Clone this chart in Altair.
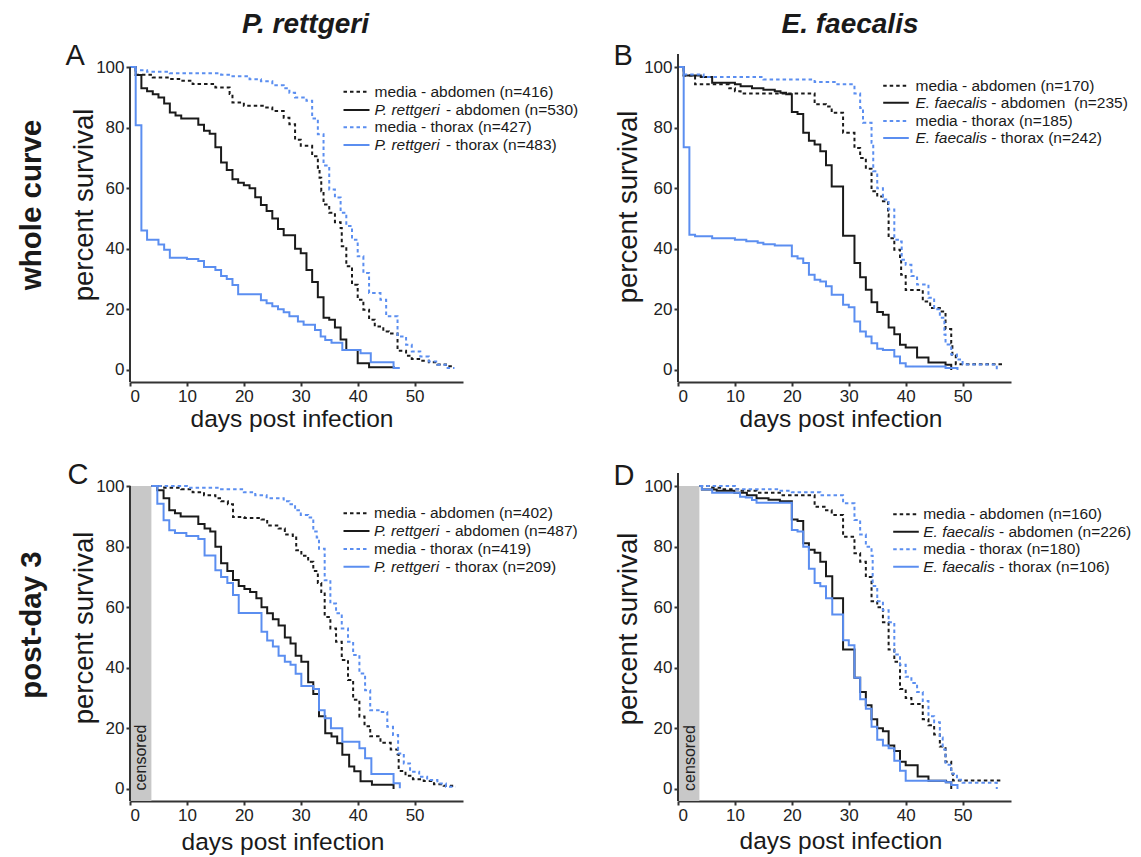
import altair as alt
import pandas as pd

FONT = "Liberation Sans"
INK = "#1a1a1a"
BLUE = "#5b8ef0"
BAND = "#c8c8c8"
AXIS = "#333333"

KEYS = ["media_abd", "bact_abd", "media_thx", "bact_thx"]
COLORS = [INK, INK, BLUE, BLUE]
DASHES = [[3.5, 3], [1, 0], [3.5, 3], [1, 0]]

X_TICKS = [0, 10, 20, 30, 40, 50]
Y_TICKS = [0, 20, 40, 60, 80, 100]
CENSOR_END = 3.76

COL_TITLES = ["P. rettgeri", "E. faecalis"]
ROW_TITLES = ["whole curve", "post-day 3"]
PANEL_LETTERS = ["A", "B", "C", "D"]
X_TITLE = "days post infection"
Y_TITLE = "percent survival"
CENSOR_LABEL = "censored"

# ---------------- legends ----------------
A_leg_italic = ["", "P. rettgeri", "", "P. rettgeri"]
A_leg_text = ["media - abdomen (n=416)", "- abdomen (n=530)", "media - thorax (n=427)", "- thorax (n=483)"]
B_leg_italic = ["", "E. faecalis", "", "E. faecalis"]
B_leg_text = ["media - abdomen (n=170)", "- abdomen\u00a0 (n=235)", "media - thorax (n=185)", "- thorax (n=242)"]
C_leg_italic = ["", "P. rettgeri", "", "P. rettgeri"]
C_leg_text = ["media - abdomen (n=402)", "- abdomen (n=487)", "media - thorax (n=419)", "- thorax (n=209)"]
D_leg_italic = ["", "E. faecalis", "", "E. faecalis"]
D_leg_text = ["media - abdomen (n=160)", "- abdomen (n=226)", "media - thorax (n=180)", "- thorax (n=106)"]

# ---------------- panel A: P. rettgeri, whole curve ----------------
A_ma_day = [0, 1, 4, 7, 9, 11, 15, 17.5, 18, 20, 23.5, 25, 27, 28, 29, 30, 32, 33, 33.3, 33.6, 34, 35, 36, 37, 37.2, 38, 39, 40, 41, 42, 43, 44.5, 45.5, 47, 48.5, 49.5, 51, 52.5, 54, 55.5, 56.6]
A_ma_srv = [100, 97.5, 96.6, 96.1, 95.5, 94.4, 93.3, 91.1, 88.3, 87.2, 86.7, 85.5, 83.3, 81.1, 76, 74, 70.6, 66.8, 63.5, 59, 54.6, 51.9, 48.8, 46.9, 40.8, 34.2, 28.1, 23.2, 19.9, 16.6, 14.3, 12.7, 12, 6.3, 4.7, 3.6, 3, 2.5, 1.8, 1.2, 0.9]
A_ba_day = [0, 1, 2, 3, 4, 5, 6, 7, 8, 9, 12, 13, 14, 15, 16, 17, 18, 19, 20, 21, 22, 23, 24, 25, 26, 27, 29, 30, 31, 32, 33, 34, 35, 36, 37, 38, 40, 42, 46.5]
A_ba_srv = [100, 97.4, 93, 92, 91, 90, 88, 85, 84, 83, 81, 79, 78, 73.5, 68.5, 66, 63, 61.8, 61, 60, 57, 54.5, 52.5, 50, 46.5, 44.5, 40, 38.5, 33, 29, 24, 17.2, 16.6, 14, 10, 6.6, 2.2, 0.9, 0.9]
A_mt_day = [0, 1, 3, 7, 16, 18, 21, 23, 25, 27, 28, 29, 31, 32, 33, 34, 35, 36, 37, 38, 39, 40, 41, 42, 44, 45, 47, 48.5, 49.5, 51, 52.5, 54, 55.8, 57]
A_mt_srv = [100, 99, 98.5, 98, 97.5, 97, 96, 95.3, 94, 93, 91.5, 90, 88.9, 83, 77.8, 67.5, 59.6, 56.9, 51.9, 47.5, 43, 37.5, 32, 25.4, 23.2, 17.7, 11, 8.3, 6.1, 4.4, 2.8, 1.7, 0.6, 0.6]
A_bt_day = [0, 1, 2, 3, 5, 6, 7, 10, 12, 13, 15, 16, 17, 18, 19, 23, 24, 25, 26, 27, 28, 29.5, 30.5, 32.5, 33.5, 34.3, 35.4, 37.3, 40.5, 42.3, 46.3, 47.4]
A_bt_srv = [100, 80.8, 46, 43, 41.4, 39.7, 37, 36.6, 36, 34, 33, 31, 30, 28, 25, 23, 22, 21, 20, 19, 17.7, 16, 14.9, 13.2, 11, 9.9, 9, 6.6, 5.5, 2.5, 0.6, 0.6]

# ---------------- panel B: E. faecalis, whole curve ----------------
B_ma_day = [0, 1, 3, 9, 10, 11, 24, 26, 27, 29, 31, 32, 33, 34, 35, 36, 36.9, 37, 38, 39, 39.2, 40, 43, 44.3, 46, 47, 48, 48.2, 48.8, 57]
B_ma_srv = [100, 97.2, 94.3, 93, 92, 91.3, 87.7, 87, 84.9, 78.3, 73.3, 70, 66.4, 59, 57.3, 55.7, 51.3, 43.5, 39.7, 36.4, 31.4, 26.4, 22.6, 20.4, 19.3, 13.5, 8.8, 4.9, 1.9, 1.9]
B_ba_day = [0, 1, 4, 6, 10, 11, 13, 15, 17, 18, 19, 20, 21, 22, 23, 24, 25, 26, 27, 29, 31, 32, 33, 34, 35, 36, 37, 38, 39, 40, 42, 44, 47, 48]
B_ba_srv = [100, 97.2, 96.7, 94.8, 94.3, 93.7, 93, 92.5, 92, 91.5, 91, 85.2, 84.5, 78.3, 75.7, 74.4, 72.2, 67.6, 60.6, 44.3, 35.3, 30.6, 26.5, 22.3, 19.1, 18.2, 14, 11.8, 8.3, 7.4, 4.1, 2.4, 1.7, 0]
B_mt_day = [0, 1, 4.5, 15, 24, 28, 31, 32, 32.5, 34, 34.3, 35, 36, 37, 38, 39, 39.3, 40, 41, 42, 44, 45, 46, 46.8, 47, 48, 49, 50, 56]
B_mt_srv = [100, 97.6, 96.7, 95.9, 95.1, 94.3, 91.3, 86.5, 81.6, 75, 65.6, 60, 56.3, 53, 43, 42.4, 36.4, 34.7, 31, 28.2, 23.8, 20, 17.2, 11.7, 8.4, 5.1, 3.4, 1.8, 0]
B_bt_day = [0, 1, 2, 3, 6, 10, 12, 14, 15, 17, 20, 21, 22, 23, 24, 25, 26, 27, 29, 30, 31, 32, 33, 34, 35, 36, 38, 39, 40, 47, 49.1]
B_bt_srv = [100, 73.5, 44.6, 44.1, 43.5, 43, 42.5, 42, 41.5, 41.1, 37.5, 36.8, 35.3, 31.4, 29.8, 29.2, 27.6, 24.8, 21.5, 20.7, 16, 12.7, 11, 8.8, 7, 6.6, 4.4, 2.2, 1.1, 0.6, 0]

# ---------------- panel C: P. rettgeri, post-day 3 ----------------
C_ma_day = [3.8, 6, 9, 11, 13, 15, 16, 17.2, 18.1, 20.1, 23.1, 24.1, 26.1, 27.2, 28.6, 29.2, 30.1, 31.3, 32.2, 33, 33.6, 34.2, 35.2, 36.2, 37.2, 38.3, 39.2, 40.3, 41.2, 42.2, 44, 45.8, 47, 47.2, 48.4, 49.7, 51.6, 53.4, 55.1, 56.6, 57]
C_ma_srv = [100, 99.5, 99, 98, 97, 96, 95, 94, 89.8, 89.5, 89, 87, 86, 84, 83, 78.8, 77, 75, 72, 68, 65, 56.8, 53, 48.6, 42.6, 36, 29.4, 23.9, 20.7, 17.4, 15.2, 13, 11.4, 5.9, 4.3, 3.2, 2.6, 1.5, 1, 0.4, 0.4]
C_ba_day = [3.8, 4.8, 5.9, 6.9, 7.9, 8.9, 12, 13.1, 14.1, 15, 16, 17.1, 18.1, 19.1, 20.1, 21.1, 22.2, 23.1, 24.1, 25.1, 26.1, 27.2, 28.2, 29.1, 30.1, 31.3, 32.2, 33.2, 34.3, 35.4, 36.4, 37.3, 38.5, 39.4, 40.5, 42.5, 46.3]
C_ba_srv = [100, 98.6, 96, 92, 91, 90, 87.5, 86, 85, 80, 74.5, 72, 69, 67, 66, 65, 63, 60, 58, 56, 54, 50, 48, 44, 42, 35.2, 31.3, 24, 18.4, 17.3, 15.1, 11.3, 7.4, 5.8, 2.5, 1.4, 0]
C_mt_day = [3.8, 10, 16, 20, 22, 24, 27, 28, 29, 30, 31.3, 32.2, 32.8, 33.2, 34.2, 35.2, 36.2, 37.2, 38.3, 39.2, 40.3, 41.3, 42.2, 44, 45.2, 46.2, 47.1, 48.1, 49.2, 50.8, 52.2, 54, 55.5, 57.2]
C_mt_srv = [100, 99.5, 99, 98, 97, 96, 95, 94, 92, 90.5, 89.6, 85, 83, 79.3, 68.9, 61.2, 58, 53, 48.6, 44.2, 38.1, 32.6, 26, 25.4, 20.5, 17.8, 11.7, 8.4, 5.7, 4, 2.9, 1.8, 0.7, 0.7]
C_bt_day = [3.8, 4.8, 5.9, 6.9, 7.9, 9.9, 12, 13.1, 15, 16, 17.1, 18.1, 19.1, 23.1, 24.1, 25.1, 26.1, 27.2, 28.2, 29.1, 30.1, 32.2, 33.2, 34.2, 35.3, 37.3, 40.3, 41.3, 42.4, 46.3, 47.4]
C_bt_srv = [100, 94.2, 88.7, 85.4, 84.5, 83.5, 82.5, 77.1, 72.2, 70, 68, 64, 58.1, 51.9, 49, 47, 44, 42, 41, 38, 34, 33, 26, 23.3, 20, 15.6, 13.4, 10.1, 4.9, 1.9, 0.2]

# ---------------- panel D: E. faecalis, post-day 3 ----------------
D_ma_day = [3.8, 6, 8, 10.9, 13.8, 17.9, 24, 26, 27, 29, 31, 32, 33, 34, 35, 36, 37, 38, 39, 40, 41, 43, 44, 45, 46, 47, 48, 48.3, 57]
D_ma_srv = [100, 99.5, 99, 98.5, 97.8, 97, 93.2, 92, 90.5, 83.3, 77.8, 75, 70, 62, 60, 55, 46, 42, 33, 30, 28, 23, 21, 18, 14, 9, 5, 2.8, 2.8]
D_ba_day = [3.8, 4.2, 6.8, 9.9, 12.1, 13.8, 15.9, 17.9, 20, 21, 22, 23, 24, 25, 26, 27.1, 29, 31, 32, 33, 34, 35, 36, 37, 38, 39, 40, 42.1, 44, 47.1, 48]
D_ba_srv = [100, 98.9, 98.5, 97.8, 97, 96, 95.5, 95, 89, 88.5, 81.1, 79, 78, 75, 70.2, 63, 46, 36.7, 32, 27.6, 23, 20, 19, 14.3, 12.5, 9, 7.8, 4.1, 2.7, 2.2, 0]
D_mt_day = [3.8, 10, 18, 20, 25, 29, 31, 32, 33, 34, 34.2, 35, 36, 37, 38, 39, 40, 41, 42, 43, 44, 45, 46, 46.5, 47, 48, 49, 50, 56]
D_mt_srv = [100, 99, 98.5, 98, 97, 94.3, 88.8, 84, 80, 77, 67, 62, 59, 55, 44.4, 41, 37, 35, 32, 29, 24, 22, 17, 13, 8, 5, 3, 2, 0]
D_bt_day = [3.8, 4.2, 6, 10.9, 11.9, 13, 13.8, 20, 21, 22, 23, 24, 25, 26, 27.1, 29, 30, 31, 32, 33, 34, 35, 36, 37, 38, 39, 40, 47, 48, 49.1]
D_bt_srv = [100, 98.9, 97.8, 96.5, 96.2, 95.4, 94.5, 85.5, 85, 80, 72.7, 68, 66.9, 63, 57.6, 49.1, 47.4, 36.7, 29.6, 26.5, 20.5, 16.2, 14.3, 13.4, 9.3, 6, 2.7, 2.2, 1.3, 0]

W, H = 333, 327
X_DOMAIN = [0, 58.5]
Y_DOMAIN = [-4, 104]
ITALIC_W = {"P. rettgeri": 71.5, "E. faecalis": 75.8}


def curves_df(curves):
    rows = []
    for key, days, srv in curves:
        if len(days) != len(srv):
            raise ValueError(key)
        rows += [{"series": key, "day": d, "surv": s} for d, s in zip(days, srv)]
    return pd.DataFrame(rows)


def one(v):
    return pd.DataFrame({"t": [v]})


def txt(s, x, y, size, weight="normal", style="normal", angle=0, align="left",
        baseline="alphabetic", color=INK):
    return alt.Chart(one(s)).mark_text(
        font=FONT, fontSize=size, fontWeight=weight, fontStyle=style, angle=angle,
        align=align, baseline=baseline, color=color,
    ).encode(x=alt.value(x), y=alt.value(y), text="t:N")


def panel(curves, y_axis_top, leg_italic, leg_text, leg_geom, censored, extras):
    x_axis = alt.Axis(values=X_TICKS, title=None, grid=False, domainColor=AXIS, domainWidth=2,
                      tickColor=AXIS, tickWidth=2, tickSize=4, labelFont=FONT, labelFontSize=17,
                      labelColor="#222222", labelPadding=2)
    y_axis = alt.Axis(values=Y_TICKS, title=None, grid=False, domain=False,
                      tickColor=AXIS, tickWidth=2, tickSize=4, labelFont=FONT, labelFontSize=17,
                      labelColor="#222222", labelPadding=2)
    layers = []
    if censored:
        layers.append(alt.Chart(one(0)).mark_rect(color=BAND).encode(
            x=alt.datum(0), x2=alt.datum(CENSOR_END), y=alt.datum(-4), y2=alt.datum(100)))
    lines = alt.Chart(curves_df(curves)).mark_line(
        interpolate="step-after", strokeWidth=2, strokeCap="butt"
    ).encode(
        x=alt.X("day:Q", scale=alt.Scale(domain=X_DOMAIN, nice=False, zero=False), axis=x_axis),
        y=alt.Y("surv:Q", scale=alt.Scale(domain=Y_DOMAIN, nice=False, zero=False), axis=y_axis),
        color=alt.Color("series:N", scale=alt.Scale(domain=KEYS, range=COLORS), legend=None),
        strokeDash=alt.StrokeDash("series:N", scale=alt.Scale(domain=KEYS, range=DASHES), legend=None),
    )
    layers.append(lines)
    layers.append(alt.Chart(one(0)).mark_rule(color=AXIS, strokeWidth=2).encode(
        x=alt.datum(0), y=alt.datum(-4), y2=alt.datum(y_axis_top)))
    if censored:
        layers.append(txt(CENSOR_LABEL, censored[0], censored[1], 16, angle=270,
                          align="center", baseline="middle", color="#222222"))
    lx0, lx1, tx, rows_y = leg_geom
    for i, ly in enumerate(rows_y):
        layers.append(alt.Chart(one(0)).mark_rule(
            color=COLORS[i], strokeWidth=2, strokeDash=DASHES[i], strokeCap="butt"
        ).encode(x=alt.value(lx0), x2=alt.value(lx1), y=alt.value(ly)))
        off = 0
        if leg_italic[i]:
            layers.append(txt(leg_italic[i], tx, ly, 15.5, style="italic", baseline="middle"))
            off = ITALIC_W[leg_italic[i]]
        layers.append(txt(leg_text[i], tx + off, ly, 15.5, baseline="middle"))
    for e in extras:
        layers.append(e)
    return alt.layer(*layers).properties(width=W, height=H)


anchor = alt.Chart(one(0)).mark_rect(opacity=0).encode(
    x=alt.value(-121.5), x2=alt.value(-120.5), y=alt.value(-47), y2=alt.value(-46))

pA = panel(
    [("media_abd", A_ma_day, A_ma_srv), ("bact_abd", A_ba_day, A_ba_srv),
     ("media_thx", A_mt_day, A_mt_srv), ("bact_thx", A_bt_day, A_bt_srv)],
    100, A_leg_italic, A_leg_text, (213.5, 239.5, 244.5, [36.7, 55, 72.3, 90]), None,
    [anchor,
     txt(COL_TITLES[0], 175.5, -22, 28, weight="bold", style="italic", align="center"),
     txt(ROW_TITLES[0], -98.5, 150, 29.5, weight="bold", angle=270, align="center", baseline="middle"),
     txt(PANEL_LETTERS[0], -64.5, 10, 29),
     txt(Y_TITLE, -45.5, 150, 27.5, angle=270, align="center", baseline="middle"),
     txt(X_TITLE, 162, 372, 24.5, align="center")],
)
pB = panel(
    [("media_abd", B_ma_day, B_ma_srv), ("bact_abd", B_ba_day, B_ba_srv),
     ("media_thx", B_mt_day, B_mt_srv), ("bact_thx", B_bt_day, B_bt_srv)],
    104.3, B_leg_italic, B_leg_text, (205.2, 230.8, 237.5, [30.7, 47.7, 66, 83]), None,
    [txt(COL_TITLES[1], 172, -22, 28, weight="bold", style="italic", align="center"),
     txt(PANEL_LETTERS[1], -64.5, 10, 29),
     txt(Y_TITLE, -49.5, 152, 27.5, angle=270, align="center", baseline="middle"),
     txt(X_TITLE, 163, 372, 24.5, align="center")],
)
pC = panel(
    [("media_abd", C_ma_day, C_ma_srv), ("bact_abd", C_ba_day, C_ba_srv),
     ("media_thx", C_mt_day, C_mt_srv), ("bact_thx", C_bt_day, C_bt_srv)],
    100, C_leg_italic, C_leg_text, (213.5, 239.5, 244, [39.3, 57, 75, 92.7]), (10.5, 283.5),
    [txt(ROW_TITLES[1], -98.5, 151, 29.5, weight="bold", angle=270, align="center", baseline="middle"),
     txt(PANEL_LETTERS[2], -62.5, 10, 29),
     txt(Y_TITLE, -45.5, 154, 27.5, angle=270, align="center", baseline="middle"),
     txt(X_TITLE, 153, 376, 24.5, align="center")],
)
pD = panel(
    [("media_abd", D_ma_day, D_ma_srv), ("bact_abd", D_ba_day, D_ba_srv),
     ("media_thx", D_mt_day, D_mt_srv), ("bact_thx", D_bt_day, D_bt_srv)],
    104.3, D_leg_italic, D_leg_text, (215.2, 240.8, 245.2, [40.3, 57.7, 75.3, 92.7]), (11.5, 284),
    [txt(PANEL_LETTERS[3], -64.5, 11, 29),
     txt(Y_TITLE, -49.5, 155, 27.5, angle=270, align="center", baseline="middle"),
     txt(X_TITLE, 163, 375, 24.5, align="center")],
)

chart = alt.concat(
    pA, pB, pC, pD, columns=2, spacing={"row": 92, "column": 215}, bounds="flush"
).properties(padding=0, background="#ffffff").configure_view(stroke=None)

chart.save("out.html", embed_options={"renderer": "svg", "actions": False})
